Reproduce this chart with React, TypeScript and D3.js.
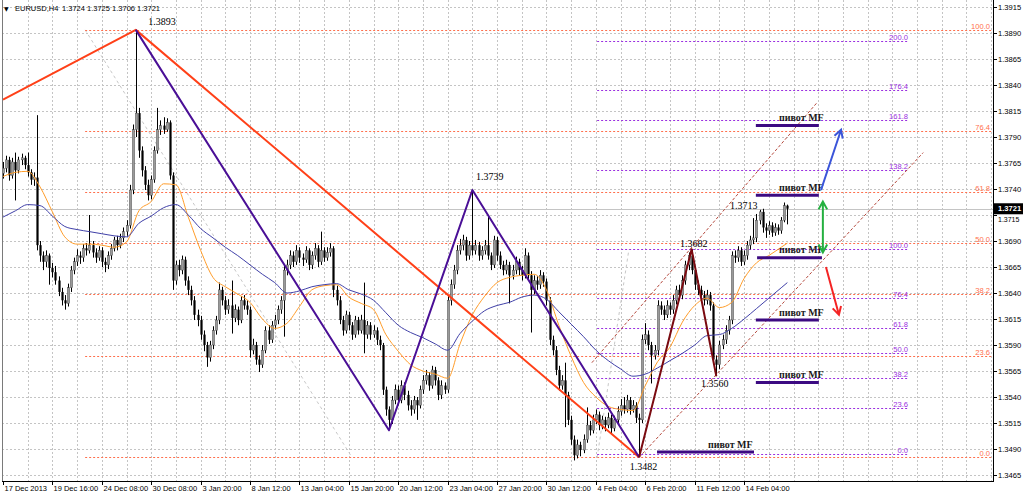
import { useEffect, useRef } from 'react';
import * as d3 from 'd3';

const WIDTH = 1024;
const HEIGHT = 495;
const FRAME = { left: 2, right: 993, top: 0, bottom: 481 };
const BAR_STEP = 3.088;

const SANS = "'Liberation Sans', Arial, sans-serif";
const SERIF = "'Liberation Serif', 'Times New Roman', serif";

const symbol = 'EURUSD,H4';
const lastQuote = [1.3724, 1.3725, 1.3706, 1.3721];
const bidPrice = 1.3721;

// H4 bars from 17 Dec 2013 00:00
const opens = [
  1.3755, 1.3760, 1.3768, 1.3753, 1.3766, 1.3758, 1.3768, 1.3770, 1.3763, 1.3756,
  1.3749, 1.3751, 1.3686, 1.3676, 1.3670, 1.3676, 1.3664, 1.3660, 1.3652, 1.3641,
  1.3633, 1.3630, 1.3645, 1.3662, 1.3670, 1.3676, 1.3674, 1.3683, 1.3681, 1.3686,
  1.3679, 1.3674, 1.3681, 1.3670, 1.3667, 1.3676, 1.3683, 1.3691, 1.3686, 1.3693,
  1.3699, 1.3705, 1.3739, 1.3797, 1.3813, 1.3777, 1.3758, 1.3744, 1.3734, 1.3749,
  1.3777, 1.3797, 1.3801, 1.3797, 1.3804, 1.3753, 1.3652, 1.3667, 1.3662, 1.3672,
  1.3652, 1.3643, 1.3633, 1.3619, 1.3614, 1.3600, 1.3590, 1.3578, 1.3590, 1.3604,
  1.3614, 1.3643, 1.3633, 1.3624, 1.3628, 1.3616, 1.3624, 1.3614, 1.3633, 1.3628,
  1.3624, 1.3585, 1.3590, 1.3576, 1.3571, 1.3585, 1.3604, 1.3595, 1.3609, 1.3614,
  1.3624, 1.3633, 1.3662, 1.3667, 1.3676, 1.3670, 1.3681, 1.3674, 1.3672, 1.3681,
  1.3667, 1.3676, 1.3683, 1.3670, 1.3681, 1.3674, 1.3679, 1.3683, 1.3643, 1.3633,
  1.3614, 1.3604, 1.3619, 1.3609, 1.3600, 1.3614, 1.3604, 1.3614, 1.3600, 1.3609,
  1.3600, 1.3604, 1.3595, 1.3590, 1.3547, 1.3528, 1.3518, 1.3537, 1.3547, 1.3537,
  1.3551, 1.3542, 1.3532, 1.3528, 1.3537, 1.3532, 1.3547, 1.3556, 1.3561, 1.3551,
  1.3566, 1.3556, 1.3542, 1.3551, 1.3547, 1.3633, 1.3648, 1.3662, 1.3681, 1.3686,
  1.3691, 1.3676, 1.3686, 1.3681, 1.3686, 1.3676, 1.3681, 1.3686, 1.3676, 1.3667,
  1.3691, 1.3676, 1.3667, 1.3662, 1.3667, 1.3657, 1.3662, 1.3670, 1.3662, 1.3657,
  1.3676, 1.3657, 1.3643, 1.3652, 1.3648, 1.3657, 1.3651, 1.3633, 1.3595, 1.3585,
  1.3566, 1.3551, 1.3556, 1.3542, 1.3518, 1.3499, 1.3484, 1.3494, 1.3489, 1.3499,
  1.3513, 1.3508, 1.3518, 1.3523, 1.3513, 1.3518, 1.3513, 1.3520, 1.3510, 1.3518,
  1.3526, 1.3532, 1.3528, 1.3537, 1.3528, 1.3532, 1.3520, 1.3518, 1.3595, 1.3600,
  1.3590, 1.3580, 1.3585, 1.3628, 1.3624, 1.3619, 1.3628, 1.3624, 1.3633, 1.3643,
  1.3638, 1.3652, 1.3667, 1.3676, 1.3662, 1.3648, 1.3643, 1.3638, 1.3633, 1.3638,
  1.3628, 1.3576, 1.3571, 1.3590, 1.3595, 1.3604, 1.3614, 1.3676, 1.3674, 1.3681,
  1.3670, 1.3676, 1.3686, 1.3691, 1.3693, 1.3710, 1.3718, 1.3703, 1.3700, 1.3705,
  1.3698, 1.3703, 1.3700, 1.3710, 1.3724,
];

const highs = [
  1.3766, 1.3772, 1.3771, 1.3770, 1.3775, 1.3771, 1.3774, 1.3772, 1.3775, 1.3759,
  1.3756, 1.3811, 1.3690, 1.3680, 1.3681, 1.3678, 1.3669, 1.3666, 1.3656, 1.3645,
  1.3638, 1.3649, 1.3666, 1.3674, 1.3682, 1.3680, 1.3687, 1.3688, 1.3715, 1.3690,
  1.3683, 1.3685, 1.3684, 1.3674, 1.3680, 1.3687, 1.3694, 1.3695, 1.3697, 1.3703,
  1.3710, 1.3744, 1.3802, 1.3893, 1.3818, 1.3781, 1.3762, 1.3749, 1.3753, 1.3781,
  1.3818, 1.3806, 1.3809, 1.3808, 1.3806, 1.3756, 1.3671, 1.3672, 1.3676, 1.3675,
  1.3656, 1.3647, 1.3637, 1.3624, 1.3618, 1.3604, 1.3593, 1.3594, 1.3608, 1.3618,
  1.3650, 1.3646, 1.3637, 1.3634, 1.3652, 1.3629, 1.3627, 1.3637, 1.3638, 1.3633,
  1.3627, 1.3596, 1.3593, 1.3580, 1.3590, 1.3608, 1.3609, 1.3613, 1.3619, 1.3628,
  1.3637, 1.3666, 1.3672, 1.3681, 1.3680, 1.3686, 1.3684, 1.3678, 1.3685, 1.3683,
  1.3680, 1.3688, 1.3686, 1.3699, 1.3684, 1.3684, 1.3688, 1.3685, 1.3647, 1.3637,
  1.3618, 1.3623, 1.3622, 1.3612, 1.3618, 1.3617, 1.3619, 1.3650, 1.3613, 1.3612,
  1.3609, 1.3607, 1.3599, 1.3592, 1.3550, 1.3531, 1.3541, 1.3552, 1.3551, 1.3556,
  1.3554, 1.3546, 1.3537, 1.3541, 1.3540, 1.3551, 1.3561, 1.3566, 1.3564, 1.3570,
  1.3569, 1.3559, 1.3556, 1.3554, 1.3637, 1.3653, 1.3667, 1.3686, 1.3692, 1.3696,
  1.3694, 1.3690, 1.3739, 1.3691, 1.3689, 1.3685, 1.3691, 1.3713, 1.3679, 1.3695,
  1.3694, 1.3680, 1.3671, 1.3672, 1.3670, 1.3667, 1.3675, 1.3673, 1.3666, 1.3683,
  1.3679, 1.3661, 1.3657, 1.3656, 1.3662, 1.3660, 1.3654, 1.3636, 1.3599, 1.3589,
  1.3570, 1.3561, 1.3573, 1.3545, 1.3522, 1.3503, 1.3499, 1.3497, 1.3504, 1.3530,
  1.3517, 1.3523, 1.3528, 1.3526, 1.3522, 1.3521, 1.3525, 1.3523, 1.3522, 1.3531,
  1.3538, 1.3540, 1.3542, 1.3540, 1.3537, 1.3535, 1.3524, 1.3600, 1.3611, 1.3604,
  1.3593, 1.3590, 1.3633, 1.3632, 1.3628, 1.3633, 1.3631, 1.3638, 1.3647, 1.3648,
  1.3657, 1.3671, 1.3679, 1.3682, 1.3665, 1.3652, 1.3647, 1.3642, 1.3643, 1.3641,
  1.3631, 1.3580, 1.3594, 1.3600, 1.3609, 1.3618, 1.3680, 1.3681, 1.3685, 1.3684,
  1.3681, 1.3690, 1.3695, 1.3712, 1.3716, 1.3720, 1.3721, 1.3707, 1.3709, 1.3708,
  1.3707, 1.3706, 1.3713, 1.3727, 1.3725,
];

const lows = [
  1.3750, 1.3756, 1.3748, 1.3750, 1.3729, 1.3755, 1.3763, 1.3759, 1.3752, 1.3744,
  1.3743, 1.3681, 1.3670, 1.3662, 1.3665, 1.3648, 1.3655, 1.3648, 1.3637, 1.3628,
  1.3624, 1.3627, 1.3641, 1.3658, 1.3666, 1.3668, 1.3670, 1.3676, 1.3678, 1.3674,
  1.3669, 1.3671, 1.3665, 1.3660, 1.3663, 1.3672, 1.3680, 1.3681, 1.3683, 1.3689,
  1.3695, 1.3702, 1.3735, 1.3790, 1.3770, 1.3752, 1.3739, 1.3729, 1.3730, 1.3746,
  1.3774, 1.3792, 1.3793, 1.3795, 1.3749, 1.3643, 1.3648, 1.3656, 1.3658, 1.3647,
  1.3638, 1.3628, 1.3614, 1.3608, 1.3595, 1.3584, 1.3569, 1.3574, 1.3586, 1.3600,
  1.3610, 1.3628, 1.3619, 1.3620, 1.3601, 1.3612, 1.3609, 1.3611, 1.3624, 1.3619,
  1.3578, 1.3581, 1.3571, 1.3564, 1.3568, 1.3582, 1.3591, 1.3592, 1.3605, 1.3610,
  1.3620, 1.3598, 1.3657, 1.3663, 1.3665, 1.3667, 1.3669, 1.3666, 1.3669, 1.3662,
  1.3663, 1.3672, 1.3665, 1.3667, 1.3670, 1.3671, 1.3675, 1.3636, 1.3628, 1.3610,
  1.3599, 1.3601, 1.3604, 1.3595, 1.3597, 1.3600, 1.3601, 1.3582, 1.3596, 1.3595,
  1.3597, 1.3590, 1.3585, 1.3542, 1.3522, 1.3510, 1.3514, 1.3533, 1.3532, 1.3534,
  1.3537, 1.3527, 1.3522, 1.3524, 1.3518, 1.3529, 1.3543, 1.3552, 1.3546, 1.3548,
  1.3551, 1.3537, 1.3538, 1.3543, 1.3544, 1.3628, 1.3644, 1.3658, 1.3677, 1.3681,
  1.3671, 1.3672, 1.3676, 1.3677, 1.3671, 1.3672, 1.3677, 1.3672, 1.3662, 1.3664,
  1.3671, 1.3663, 1.3657, 1.3658, 1.3630, 1.3653, 1.3658, 1.3657, 1.3652, 1.3654,
  1.3653, 1.3602, 1.3639, 1.3643, 1.3644, 1.3646, 1.3628, 1.3590, 1.3580, 1.3561,
  1.3546, 1.3547, 1.3511, 1.3513, 1.3494, 1.3479, 1.3481, 1.3483, 1.3486, 1.3496,
  1.3503, 1.3505, 1.3514, 1.3508, 1.3509, 1.3507, 1.3510, 1.3505, 1.3507, 1.3515,
  1.3522, 1.3524, 1.3525, 1.3523, 1.3525, 1.3515, 1.3482, 1.3515, 1.3591, 1.3585,
  1.3553, 1.3576, 1.3580, 1.3619, 1.3614, 1.3616, 1.3619, 1.3620, 1.3629, 1.3633,
  1.3634, 1.3648, 1.3662, 1.3658, 1.3643, 1.3638, 1.3633, 1.3628, 1.3629, 1.3623,
  1.3571, 1.3560, 1.3567, 1.3586, 1.3591, 1.3600, 1.3610, 1.3669, 1.3670, 1.3666,
  1.3667, 1.3672, 1.3682, 1.3687, 1.3689, 1.3706, 1.3698, 1.3693, 1.3696, 1.3694,
  1.3695, 1.3696, 1.3697, 1.3708, 1.3706,
];

const closes = [
  1.3760, 1.3768, 1.3753, 1.3766, 1.3758, 1.3768, 1.3770, 1.3763, 1.3756, 1.3749,
  1.3751, 1.3686, 1.3676, 1.3670, 1.3676, 1.3664, 1.3660, 1.3652, 1.3641, 1.3633,
  1.3630, 1.3645, 1.3662, 1.3670, 1.3676, 1.3674, 1.3683, 1.3681, 1.3686, 1.3679,
  1.3674, 1.3681, 1.3670, 1.3667, 1.3676, 1.3683, 1.3691, 1.3686, 1.3693, 1.3699,
  1.3705, 1.3739, 1.3797, 1.3813, 1.3777, 1.3758, 1.3744, 1.3734, 1.3749, 1.3777,
  1.3797, 1.3801, 1.3797, 1.3804, 1.3753, 1.3652, 1.3667, 1.3662, 1.3672, 1.3652,
  1.3643, 1.3633, 1.3619, 1.3614, 1.3600, 1.3590, 1.3578, 1.3590, 1.3604, 1.3614,
  1.3643, 1.3633, 1.3624, 1.3628, 1.3616, 1.3624, 1.3614, 1.3633, 1.3628, 1.3624,
  1.3585, 1.3590, 1.3576, 1.3571, 1.3585, 1.3604, 1.3595, 1.3609, 1.3614, 1.3624,
  1.3633, 1.3662, 1.3667, 1.3676, 1.3670, 1.3681, 1.3674, 1.3672, 1.3681, 1.3667,
  1.3676, 1.3683, 1.3670, 1.3681, 1.3674, 1.3679, 1.3683, 1.3643, 1.3633, 1.3614,
  1.3604, 1.3619, 1.3609, 1.3600, 1.3614, 1.3604, 1.3614, 1.3600, 1.3609, 1.3600,
  1.3604, 1.3595, 1.3590, 1.3547, 1.3528, 1.3518, 1.3537, 1.3547, 1.3537, 1.3551,
  1.3542, 1.3532, 1.3528, 1.3537, 1.3532, 1.3547, 1.3556, 1.3561, 1.3551, 1.3566,
  1.3556, 1.3542, 1.3551, 1.3547, 1.3633, 1.3648, 1.3662, 1.3681, 1.3686, 1.3691,
  1.3676, 1.3686, 1.3681, 1.3686, 1.3676, 1.3681, 1.3686, 1.3676, 1.3667, 1.3691,
  1.3676, 1.3667, 1.3662, 1.3667, 1.3657, 1.3662, 1.3670, 1.3662, 1.3657, 1.3676,
  1.3657, 1.3643, 1.3652, 1.3648, 1.3657, 1.3651, 1.3633, 1.3595, 1.3585, 1.3566,
  1.3551, 1.3556, 1.3542, 1.3518, 1.3499, 1.3484, 1.3494, 1.3489, 1.3499, 1.3513,
  1.3508, 1.3518, 1.3523, 1.3513, 1.3518, 1.3513, 1.3520, 1.3510, 1.3518, 1.3526,
  1.3532, 1.3528, 1.3537, 1.3528, 1.3532, 1.3520, 1.3518, 1.3595, 1.3600, 1.3590,
  1.3580, 1.3585, 1.3628, 1.3624, 1.3619, 1.3628, 1.3624, 1.3633, 1.3643, 1.3638,
  1.3652, 1.3667, 1.3676, 1.3662, 1.3648, 1.3643, 1.3638, 1.3633, 1.3638, 1.3628,
  1.3576, 1.3571, 1.3590, 1.3595, 1.3604, 1.3614, 1.3676, 1.3674, 1.3681, 1.3670,
  1.3676, 1.3686, 1.3691, 1.3693, 1.3710, 1.3718, 1.3703, 1.3700, 1.3705, 1.3698,
  1.3703, 1.3700, 1.3710, 1.3724, 1.3721,
];

// moving averages, read every 4 bars
const maBars = [
  0, 4, 8, 12, 16, 20, 24, 28, 32, 36, 40, 44, 48, 52, 56, 60, 64, 68, 72, 76,
  80, 84, 88, 92, 96, 100, 104, 108, 112, 116, 120, 124, 128, 132, 136, 140,
  144, 148, 152, 156, 160, 164, 168, 172, 176, 180, 184, 188, 192, 196, 200,
  204, 208, 212, 216, 220, 224, 228, 232, 236, 240, 244, 248, 252, 254,
];
const maFast = [
  1.3752, 1.3756, 1.3757, 1.3742, 1.3718, 1.3694, 1.3687, 1.3687, 1.3686, 1.3684,
  1.3689, 1.3719, 1.3728, 1.3745, 1.3744, 1.3713, 1.3681, 1.3655, 1.3646, 1.3639,
  1.3631, 1.3615, 1.3606, 1.3611, 1.3627, 1.3643, 1.3647, 1.3648, 1.3636, 1.3630,
  1.3624, 1.3600, 1.3584, 1.3571, 1.3565, 1.3562, 1.3558, 1.3591, 1.3619, 1.3637,
  1.3650, 1.3655, 1.3657, 1.3658, 1.3643, 1.3609, 1.3579, 1.3554, 1.3540, 1.3531,
  1.3528, 1.3527, 1.3551, 1.3574, 1.3588, 1.3612, 1.3628, 1.3635, 1.3626, 1.3631,
  1.3654, 1.3669, 1.3676, 1.3684, 1.3688,
];
const maSlow = [
  1.3713, 1.3719, 1.3725, 1.3724, 1.3714, 1.3704, 1.3701, 1.3699, 1.3697, 1.3695,
  1.3694, 1.3707, 1.3714, 1.3722, 1.3725, 1.3715, 1.3702, 1.3693, 1.3684, 1.3676,
  1.3667, 1.3658, 1.3650, 1.3640, 1.3642, 1.3646, 1.3648, 1.3649, 1.3643, 1.3639,
  1.3633, 1.3621, 1.3609, 1.3602, 1.3597, 1.3591, 1.3585, 1.3601, 1.3613, 1.3623,
  1.3628, 1.3631, 1.3636, 1.3638, 1.3634, 1.3622, 1.3610, 1.3598, 1.3585, 1.3575,
  1.3567, 1.3560, 1.3562, 1.3568, 1.3575, 1.3582, 1.3590, 1.3599, 1.3600, 1.3606,
  1.3615, 1.3625, 1.3635, 1.3645, 1.3650,
];

const priceTicks = [
  1.3915, 1.389, 1.3865, 1.384, 1.3815, 1.379, 1.3765, 1.374, 1.3715, 1.369,
  1.3665, 1.364, 1.3615, 1.359, 1.3565, 1.354, 1.3515, 1.349, 1.3465,
];
const dateLabels = [
  '17 Dec 2013', '19 Dec 16:00', '24 Dec 08:00', '30 Dec 08:00', '3 Jan 20:00',
  '8 Jan 12:00', '13 Jan 04:00', '15 Jan 20:00', '20 Jan 12:00', '23 Jan 04:00',
  '27 Jan 20:00', '30 Jan 12:00', '4 Feb 04:00', '6 Feb 20:00', '11 Feb 12:00',
  '14 Feb 04:00',
];
const dateLabelBars = [0, 16, 32, 48, 64, 80, 96, 112, 128, 144, 160, 176, 192, 208, 224, 240];

// Fibonacci retracements
const fibBigLevels = ['100.0', '76.4', '61.8', '50.0', '38.2', '23.6', '0.0'];
const fibBigPrices = [1.3893, 1.3796, 1.3737, 1.3688, 1.3639, 1.3579, 1.3482];
const fibBigBars = [26.6, 113];
const fibBigAnchors = [1.3893, 1.3482];

const fibSmallLevels = ['200.0', '176.4', '161.8', '138.2', '100.0', '76.4', '61.8', '50.0', '38.2', '23.6', '0.0'];
const fibSmallPrices = [1.3882, 1.3835, 1.3806, 1.3758, 1.3682, 1.3635, 1.3606, 1.3582, 1.3558, 1.3529, 1.3485];
const fibSmallBars = [192.4, 202.7, 293.1];
const fibSmallAnchors = [1.3482, 1.3682];

// zigzags
const zigRedBars = [0, 43, 206];
const zigRedPrices = [1.3826, 1.3893, 1.3482];
const zigPurpleBars = [43, 125, 152, 206];
const zigPurplePrices = [1.3893, 1.3508, 1.3739, 1.3482];
const zigMaroonBars = [206, 223, 231];
const zigMaroonPrices = [1.3482, 1.3682, 1.356];

// channel
const channelLowerBars = [206, 298];
const channelLowerPrices = [1.3482, 1.3775];
const channelUpperBars = [190.7, 263.6];
const channelUpperPrices = [1.3573, 1.3823];

// "пивот MF" levels
const pivotPrices = [1.3801, 1.3734, 1.3674, 1.3614, 1.3554, 1.3487];
const pivotStartBars = [243.8, 243.8, 244.2, 243.8, 243.8, 211.8];
const pivotEndBars = [264.2, 264.2, 265.2, 264.2, 264.2, 243.2];
const pivotTextBars = [251.3, 251.3, 251.3, 251.3, 251.3, 228.3];
const pivotText = 'пивот MF';

// swing price notes
const noteTexts = ['1.3893', '1.3739', '1.3682', '1.3713', '1.3560', '1.3482'];
const noteBars = [47, 153.2, 219.2, 235.4, 226, 203];
const notePrices = [1.38977, 1.37487, 1.36842, 1.37208, 1.35496, 1.34698];

// arrows: [barFrom, priceFrom, barTo, priceTo]
const arrowBlue = [264.9, 1.3739, 271.4, 1.3797];
const arrowGreen = [265.5, 1.3728, 265.5, 1.3679];
const arrowRed = [266.5, 1.3665, 270.7, 1.3619];

export default function App() {
  const svgRef = useRef<SVGSVGElement>(null);

  useEffect(() => {
    if (!svgRef.current) return;
    const svg = d3.select(svgRef.current);
    svg.selectAll('*').remove();

    const x = d3.scaleLinear().domain([0, 100]).range([3, 3 + 100 * BAR_STEP]);
    const y = d3.scaleLinear().domain([1.3465, 1.389]).range([475, 33]);
    const px = (b: number) => Math.round(x(b)) + 0.5;
    const py = (p: number) => Math.round(y(p)) + 0.5;

    svg.append('rect').attr('width', WIDTH).attr('height', HEIGHT).attr('fill', '#ffffff');

    svg.append('clipPath').attr('id', 'plot-area').append('rect')
      .attr('x', FRAME.left)
      .attr('y', FRAME.top)
      .attr('width', FRAME.right - FRAME.left)
      .attr('height', FRAME.bottom - FRAME.top);

    const g = svg.append('g').attr('clip-path', 'url(#plot-area)');

    // Grid
    g.selectAll('.vgrid')
      .data(d3.range(8, 330, 8))
      .enter()
      .append('line')
      .attr('x1', (d) => px(d))
      .attr('x2', (d) => px(d))
      .attr('y1', FRAME.top)
      .attr('y2', FRAME.bottom)
      .attr('stroke', '#c4c4c4')
      .attr('stroke-dasharray', '2,2');

    g.selectAll('.hgrid')
      .data(priceTicks)
      .enter()
      .append('line')
      .attr('x1', FRAME.left)
      .attr('x2', FRAME.right)
      .attr('y1', (d) => py(d))
      .attr('y2', (d) => py(d))
      .attr('stroke', '#c4c4c4')
      .attr('stroke-dasharray', '2,2');

    // Bid line
    g.append('line')
      .attr('x1', FRAME.left)
      .attr('x2', FRAME.right)
      .attr('y1', py(bidPrice))
      .attr('y2', py(bidPrice))
      .attr('stroke', '#c4c4c4');

    // Fibonacci (big swing)
    const fibOrange = '#ff6f4c';
    g.append('line')
      .attr('x1', x(fibBigBars[0]))
      .attr('y1', y(fibBigAnchors[0]))
      .attr('x2', x(fibBigBars[1]))
      .attr('y2', y(fibBigAnchors[1]))
      .attr('stroke', '#c8c8c8')
      .attr('stroke-dasharray', '3,3');

    g.selectAll('.fib-big')
      .data(fibBigPrices)
      .enter()
      .append('line')
      .attr('x1', x(fibBigBars[0]))
      .attr('x2', FRAME.right)
      .attr('y1', (d) => py(d))
      .attr('y2', (d) => py(d))
      .attr('stroke', fibOrange)
      .attr('stroke-dasharray', '2,2');

    g.selectAll('.fib-big-label')
      .data(fibBigPrices)
      .enter()
      .append('text')
      .attr('x', FRAME.right - 3)
      .attr('y', (d) => py(d) - 2)
      .attr('text-anchor', 'end')
      .style('font-family', SANS)
      .style('font-size', '7.6px')
      .attr('fill', fibOrange)
      .text((_, i) => fibBigLevels[i]);

    // Fibonacci (small swing)
    const fibViolet = '#9a2fe0';
    g.append('line')
      .attr('x1', x(fibSmallBars[0]))
      .attr('y1', y(fibSmallAnchors[0]))
      .attr('x2', x(fibSmallBars[1]))
      .attr('y2', y(fibSmallAnchors[1]))
      .attr('stroke', '#c8c8c8')
      .attr('stroke-dasharray', '3,3');

    g.selectAll('.fib-small')
      .data(fibSmallPrices)
      .enter()
      .append('line')
      .attr('x1', x(fibSmallBars[0]))
      .attr('x2', x(fibSmallBars[2]))
      .attr('y1', (d) => py(d))
      .attr('y2', (d) => py(d))
      .attr('stroke', fibViolet)
      .attr('stroke-dasharray', '2,2');

    g.selectAll('.fib-small-label')
      .data(fibSmallPrices)
      .enter()
      .append('text')
      .attr('x', x(fibSmallBars[2]))
      .attr('y', (d) => py(d) - 2)
      .attr('text-anchor', 'end')
      .style('font-family', SANS)
      .style('font-size', '7.6px')
      .attr('fill', fibViolet)
      .text((_, i) => fibSmallLevels[i]);

    // Candles
    const bars = d3.range(closes.length);
    g.selectAll('.wick')
      .data(bars)
      .enter()
      .append('line')
      .attr('x1', (i) => px(i))
      .attr('x2', (i) => px(i))
      .attr('y1', (i) => y(highs[i]))
      .attr('y2', (i) => y(lows[i]))
      .attr('stroke', '#000')
      .attr('stroke-width', 1);

    g.selectAll('.body')
      .data(bars)
      .enter()
      .append('rect')
      .attr('x', (i) => px(i) - 1.1)
      .attr('width', 2.2)
      .attr('y', (i) => y(Math.max(opens[i], closes[i])))
      .attr('height', (i) => Math.max(1, Math.abs(y(opens[i]) - y(closes[i]))))
      .attr('fill', (i) => (closes[i] >= opens[i] ? '#9a9a9a' : '#000'))
      .attr('stroke', (i) => (closes[i] >= opens[i] ? '#333' : 'none'))
      .attr('stroke-width', 0.4);

    // Moving averages
    const maLine = (vals: number[]) =>
      d3.line<number>()
        .x((_, i) => x(maBars[i]))
        .y((d) => y(d))
        .curve(d3.curveMonotoneX)(vals);

    g.append('path')
      .attr('d', maLine(maFast))
      .attr('fill', 'none')
      .attr('stroke', '#ff9d2a')
      .attr('stroke-width', 1);

    g.append('path')
      .attr('d', maLine(maSlow))
      .attr('fill', 'none')
      .attr('stroke', '#4040a8')
      .attr('stroke-width', 1);

    // Channel
    const segment = (bs: number[], ps: number[]) =>
      d3.line<number>()
        .x((b) => x(b))
        .y((_, i) => y(ps[i]))(bs);

    [[channelLowerBars, channelLowerPrices], [channelUpperBars, channelUpperPrices]].forEach(([bs, ps]) => {
      g.append('path')
        .attr('d', segment(bs, ps))
        .attr('fill', 'none')
        .attr('stroke', '#b5483c')
        .attr('stroke-dasharray', '3,2');
    });

    // Zigzags
    const zigs: [number[], number[], string][] = [
      [zigRedBars, zigRedPrices, '#ff4018'],
      [zigPurpleBars, zigPurplePrices, '#4a0f96'],
      [zigMaroonBars, zigMaroonPrices, '#7a0a10'],
    ];
    zigs.forEach(([bs, ps, color]) => {
      g.append('path')
        .attr('d', segment(bs, ps))
        .attr('fill', 'none')
        .attr('stroke', color)
        .attr('stroke-width', 2)
        .attr('stroke-linejoin', 'round');
    });

    // Pivot levels
    g.selectAll('.pivot')
      .data(pivotPrices)
      .enter()
      .append('line')
      .attr('x1', (_, i) => x(pivotStartBars[i]))
      .attr('x2', (_, i) => x(pivotEndBars[i]))
      .attr('y1', (d) => y(d))
      .attr('y2', (d) => y(d))
      .attr('stroke', '#3c0a82')
      .attr('stroke-width', 3);

    g.selectAll('.pivot-label')
      .data(pivotPrices)
      .enter()
      .append('text')
      .attr('x', (_, i) => x(pivotTextBars[i]))
      .attr('y', (d) => y(d) - 4.5)
      .style('font-family', SERIF)
      .style('font-size', '10px')
      .style('font-weight', 'bold')
      .attr('fill', '#1a1a1a')
      .text(pivotText);

    // Swing notes
    g.selectAll('.note')
      .data(noteTexts)
      .enter()
      .append('text')
      .attr('x', (_, i) => x(noteBars[i]))
      .attr('y', (_, i) => y(notePrices[i]))
      .style('font-family', SERIF)
      .style('font-size', '10px')
      .attr('fill', '#000')
      .text((d) => d);

    // Arrows
    const drawArrow = (a: number[], color: string, both: boolean) => {
      const x1 = x(a[0]);
      const y1 = y(a[1]);
      const x2 = x(a[2]);
      const y2 = y(a[3]);
      const head = (tx: number, ty: number, fx: number, fy: number) => {
        const ang = Math.atan2(ty - fy, tx - fx);
        const len = 9;
        const spread = 0.5;
        return `M${tx - len * Math.cos(ang - spread)},${ty - len * Math.sin(ang - spread)}L${tx},${ty}L${tx - len * Math.cos(ang + spread)},${ty - len * Math.sin(ang + spread)}`;
      };
      let d = `M${x1},${y1}L${x2},${y2}` + head(x2, y2, x1, y1);
      if (both) d += head(x1, y1, x2, y2);
      svg.append('path')
        .attr('d', d)
        .attr('fill', 'none')
        .attr('stroke', color)
        .attr('stroke-width', 2);
    };
    drawArrow(arrowBlue, '#3b55d9', false);
    drawArrow(arrowGreen, '#25b040', true);
    drawArrow(arrowRed, '#f42424', false);

    // Frame
    svg.append('line')
      .attr('x1', FRAME.left + 0.5).attr('x2', FRAME.left + 0.5)
      .attr('y1', FRAME.top).attr('y2', FRAME.bottom)
      .attr('stroke', '#7a7a7a');
    svg.append('line')
      .attr('x1', FRAME.right + 0.5).attr('x2', FRAME.right + 0.5)
      .attr('y1', FRAME.top).attr('y2', FRAME.bottom + 1)
      .attr('stroke', '#000');
    svg.append('line')
      .attr('x1', FRAME.left).attr('x2', FRAME.right + 1)
      .attr('y1', FRAME.bottom + 0.5).attr('y2', FRAME.bottom + 0.5)
      .attr('stroke', '#000');

    // Price axis (the tick label hidden behind the bid box is skipped)
    const visibleTicks = priceTicks.filter((d) => Math.abs(y(d) - y(bidPrice)) > 8);
    const priceAxis = svg.append('g');
    priceAxis.selectAll('line')
      .data(priceTicks)
      .enter()
      .append('line')
      .attr('x1', FRAME.right)
      .attr('x2', FRAME.right + 4)
      .attr('y1', (d) => py(d))
      .attr('y2', (d) => py(d))
      .attr('stroke', '#000');
    priceAxis.selectAll('text')
      .data(visibleTicks)
      .enter()
      .append('text')
      .attr('x', FRAME.right + 5)
      .attr('y', (d) => y(d) + 2.7)
      .style('font-family', SANS)
      .style('font-size', '7.6px')
      .attr('fill', '#000')
      .text((d) => d.toFixed(4));

    // tick label partly under the bid box, moved just below it
    priceTicks.filter((d) => Math.abs(y(d) - y(bidPrice)) <= 8).forEach((d) => {
      svg.append('text')
        .attr('x', FRAME.right + 5)
        .attr('y', y(bidPrice) + 13)
        .style('font-family', SANS)
        .style('font-size', '7px')
        .attr('fill', '#000')
        .text(d.toFixed(4));
    });

    // Bid box
    svg.append('rect')
      .attr('x', FRAME.right + 1)
      .attr('y', y(bidPrice) - 5.5)
      .attr('width', 29)
      .attr('height', 11)
      .attr('fill', '#000');
    svg.append('text')
      .attr('x', FRAME.right + 5)
      .attr('y', y(bidPrice) + 2.7)
      .style('font-family', SANS)
      .style('font-size', '7.6px')
      .style('font-weight', 'bold')
      .attr('fill', '#fff')
      .text(bidPrice.toFixed(4));

    // Time axis
    const timeAxis = svg.append('g');
    timeAxis.selectAll('line')
      .data(dateLabelBars)
      .enter()
      .append('line')
      .attr('x1', (d) => px(d))
      .attr('x2', (d) => px(d))
      .attr('y1', FRAME.bottom)
      .attr('y2', FRAME.bottom + 4)
      .attr('stroke', '#000');
    timeAxis.selectAll('text')
      .data(dateLabelBars)
      .enter()
      .append('text')
      .attr('x', (d) => px(d) + 1)
      .attr('y', FRAME.bottom + 9.5)
      .style('font-family', SANS)
      .style('font-size', '7.5px')
      .attr('fill', '#000')
      .text((_, i) => dateLabels[i]);

    // Title
    svg.append('text')
      .attr('x', 4)
      .attr('y', 11)
      .style('font-family', "'DejaVu Sans', sans-serif")
      .style('font-size', '6px')
      .attr('fill', '#000')
      .text('▼');
    svg.append('text')
      .attr('x', 15)
      .attr('y', 11)
      .style('font-family', SANS)
      .style('font-size', '7.5px')
      .attr('fill', '#000')
      .text(symbol);
    svg.append('text')
      .attr('x', 62)
      .attr('y', 11)
      .style('font-family', SANS)
      .style('font-size', '7.5px')
      .attr('fill', '#000')
      .text(lastQuote.map((v) => v.toFixed(4)).join(' '));
  }, []);

  return (
    <svg
      ref={svgRef}
      width={WIDTH}
      height={HEIGHT}
      style={{ position: 'absolute', left: 0, top: 0, display: 'block' }}
    />
  );
}
